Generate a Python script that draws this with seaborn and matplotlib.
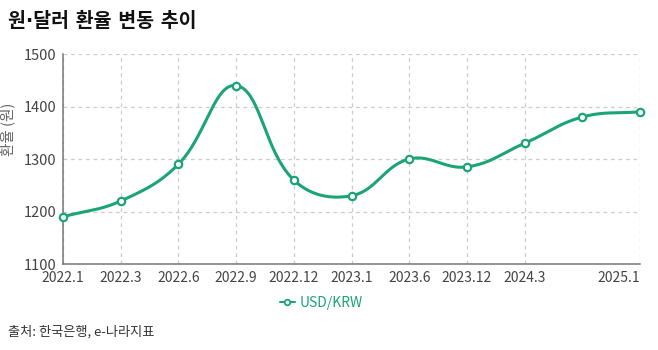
import numpy as np
import pandas as pd
import matplotlib
matplotlib.use("Agg")
import matplotlib.pyplot as plt
import seaborn as sns

# Monthly USD/KRW exchange rate snapshots
periods = ["2022.1", "2022.3", "2022.6", "2022.9", "2022.12", "2023.1",
           "2023.6", "2023.12", "2024.3", "2024.9", "2025.1"]
rates = [1190, 1220, 1290, 1440, 1260, 1230, 1300, 1285, 1330, 1380, 1390]
shown_ticks = ["2022.1", "2022.3", "2022.6", "2022.9", "2022.12", "2023.1",
               "2023.6", "2023.12", "2024.3", "2025.1"]
series_name = "USD/KRW"

GREEN = "#1ba574"
Y_MIN, Y_MAX = 1100, 1500

sns.set_theme(style="white")
plt.rcParams["font.family"] = ["Noto Sans CJK KR", "DejaVu Sans"]

df = pd.DataFrame({"pos": np.arange(len(periods)), "rate": rates})


def tension_curve(x, y, sx, sy, tension=0.4, steps=40):
    """Cardinal-style bezier through the points, control points computed
    in display proportions (sx, sy = pixels per data unit)."""
    px = np.asarray(x, float) * sx
    py = np.asarray(y, float) * sy
    n = len(px)
    c1 = np.zeros((n, 2))
    c2 = np.zeros((n, 2))
    for i in range(n):
        prev = (px[max(i - 1, 0)], py[max(i - 1, 0)])
        nxt = (px[min(i + 1, n - 1)], py[min(i + 1, n - 1)])
        cur = (px[i], py[i])
        d01 = np.hypot(cur[0] - prev[0], cur[1] - prev[1])
        d12 = np.hypot(nxt[0] - cur[0], nxt[1] - cur[1])
        s01 = d01 / (d01 + d12) if d01 + d12 else 0
        s12 = d12 / (d01 + d12) if d01 + d12 else 0
        fa, fb = tension * s01, tension * s12
        c1[i] = (cur[0] - fa * (nxt[0] - prev[0]), cur[1] - fa * (nxt[1] - prev[1]))
        c2[i] = (cur[0] + fb * (nxt[0] - prev[0]), cur[1] + fb * (nxt[1] - prev[1]))
    xs, ys = [], []
    t = np.linspace(0, 1, steps)[:, None]
    for i in range(n - 1):
        p0 = np.array([px[i], py[i]])
        p3 = np.array([px[i + 1], py[i + 1]])
        p1, p2 = c2[i], c1[i + 1]
        seg = ((1 - t) ** 3) * p0 + 3 * ((1 - t) ** 2) * t * p1 \
            + 3 * (1 - t) * t ** 2 * p2 + t ** 3 * p3
        xs.append(seg[:, 0])
        ys.append(seg[:, 1])
    return np.concatenate(xs) / sx, np.concatenate(ys) / sy


sx = 577 / (len(periods) - 1)
sy = 210 / (Y_MAX - Y_MIN)
cx, cy = tension_curve(df["pos"], df["rate"], sx, sy)
smooth = pd.DataFrame({"pos": cx, "rate": cy})

fig = plt.figure(figsize=(6.58, 3.5), dpi=100)
ax = fig.add_axes([0.0957, 0.2457, 0.877, 0.6])

sns.lineplot(data=smooth, x="pos", y="rate", ax=ax, color=GREEN, linewidth=2.2,
             legend=False, zorder=3, sort=False, estimator=None)
sns.scatterplot(data=df, x="pos", y="rate", ax=ax, s=28, marker="o",
                facecolor="white", edgecolor=GREEN, linewidth=1.6, zorder=4,
                legend=False, clip_on=False)

ax.set_xlim(0, len(periods) - 1)
ax.set_ylim(Y_MIN, Y_MAX)
ax.set_yticks([1100, 1200, 1300, 1400, 1500])
tick_pos = [periods.index(p) for p in shown_ticks]
ax.set_xticks(tick_pos)
ax.set_xticklabels(shown_ticks)
last = ax.get_xticklabels()[-1]
last.set_horizontalalignment("right")

ax.grid(True, color="#cccccc", linestyle=(0, (3, 3)), linewidth=0.9)
ax.set_axisbelow(True)
for side in ["top", "right"]:
    ax.spines[side].set_visible(False)
for side in ["left", "bottom"]:
    ax.spines[side].set_color("#777777")
    ax.spines[side].set_linewidth(1.1)
ax.tick_params(axis="both", colors="#777777", length=4, width=1,
               labelcolor="#444444", pad=1)
ax.tick_params(axis="x", labelsize=10)
ax.tick_params(axis="y", labelsize=10.5)

ax.set_xlabel("")
ax.set_ylabel("환율 (원)", fontsize=10.5, color="#666666")
ax.yaxis.set_label_coords(-0.083, 0.64)

handle = plt.Line2D([], [], color=GREEN, linewidth=1.5, marker="o", markersize=4,
                    markerfacecolor="white", markeredgecolor=GREEN, markeredgewidth=1.3)
fig.legend([handle], [series_name], loc="center", bbox_to_anchor=(0.488, 0.135),
           frameon=False, fontsize=10, labelcolor=GREEN, handlelength=1.1,
           handletextpad=0.3)

fig.text(0.012, 0.94, "원·달러 환율 변동 추이", fontsize=14, fontweight="bold",
         color="#111111", va="center", ha="left",
         family=["DejaVu Sans", "Noto Sans CJK KR"])
fig.text(0.012, 0.052, "출처: 한국은행, e-나라지표", fontsize=9.5, color="#333333",
         va="center", ha="left")

fig.savefig("out.png", dpi=100, facecolor="white")
